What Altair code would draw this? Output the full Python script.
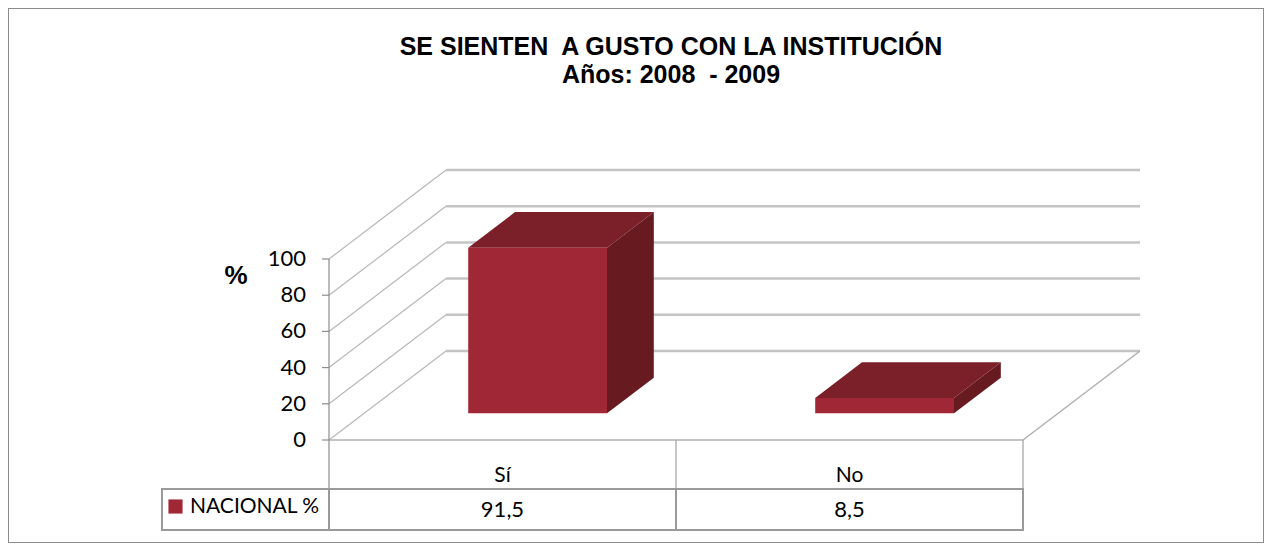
import altair as alt
import pandas as pd

# ---------------- data ----------------
categories = ["Sí", "No"]
values = [91.5, 8.5]
value_labels = ["91,5", "8,5"]
y_ticks = [0, 20, 40, 60, 80, 100]
series_name = "NACIONAL %"
title_lines = ["SE SIENTEN\u00a0 A GUSTO CON LA INSTITUCIÓN", "Años: 2008\u00a0 - 2009"]
y_title = "%"

# ---------------- layout (page pixels -> data units) ----------------
X0_PX, BAND_PX = 329.0, 347.0       # left axis x, width of one category band
Y0_PX, UNIT_PX = 440.0, 1.81        # value 0 y, pixels per value unit
W, H = 1256, 535


def U(px):
    return (px - X0_PX) / BAND_PX


def V(py):
    return (Y0_PX - py) / UNIT_PX


DX = 117.0 / BAND_PX     # full depth offset (x)
DY = 89.0 / UNIT_PX      # full depth offset (y)
D_FRONT, D_BACK = 0.30, 0.70
HALF = 0.20              # half bar width in band units

FRONT = "#A02836"
TOP = "#7B1F29"
SIDE = "#681A21"
GRID = "#c4c4c4"
FONT = "Lato"

XS = alt.Scale(domain=[U(8), U(8 + W)], nice=False, zero=False)
YS = alt.Scale(domain=[V(8 + H), V(8)], nice=False, zero=False)


def xq(f):
    return alt.X(f, type="quantitative", scale=XS, axis=None)


def yq(f):
    return alt.Y(f, type="quantitative", scale=YS, axis=None)


n = len(categories)

# back-wall gridlines
grid_df = pd.DataFrame({"t": y_ticks})
grid_df["v"] = grid_df["t"] + DY
grid_df["u0"] = DX
grid_df["u1"] = n + DX
grid = alt.Chart(grid_df).mark_rule(color=GRID, strokeWidth=2.5).encode(
    x=xq("u0"), x2="u1", y=yq("v"))

# left-wall slanted lines
slant_df = pd.DataFrame({"t": y_ticks})
slant_df["u0"] = 0.0
slant_df["u1"] = DX
slant_df["v0"] = slant_df["t"]
slant_df["v1"] = slant_df["t"] + DY
slants = alt.Chart(slant_df).mark_rule(color="#b8b8b8", strokeWidth=1.2).encode(
    x=xq("u0"), x2="u1", y=yq("v0"), y2="v1")

# floor edges
floor_df = pd.DataFrame({
    "u0": [0.0, float(n)],
    "u1": [float(n), n + DX],
    "v0": [0.0, 0.0],
    "v1": [0.0, DY],
})
floor = alt.Chart(floor_df).mark_rule(color="#b0b0b0", strokeWidth=1.5).encode(
    x=xq("u0"), x2="u1", y=yq("v0"), y2="v1")

# bars: front, top, side
bars = pd.DataFrame({"cat": categories, "val": values})
bars["c"] = [i + 0.5 for i in range(n)]

front_df = bars.copy()
front_df["ua"] = front_df["c"] - HALF + D_FRONT * DX
front_df["ub"] = front_df["c"] + HALF + D_FRONT * DX
front_df["va"] = D_FRONT * DY
front_df["vb"] = front_df["val"] + D_FRONT * DY
front = alt.Chart(front_df).mark_rect(color=FRONT).encode(
    x=xq("ua"), x2="ub", y=yq("va"), y2="vb")

top_rows = []
for _, r in bars.iterrows():
    for d in (D_FRONT, D_BACK):
        top_rows.append({"cat": r["cat"], "v": r["val"] + d * DY,
                         "xa": r["c"] - HALF + d * DX, "xb": r["c"] + HALF + d * DX})
top_df = pd.DataFrame(top_rows)
top = alt.Chart(top_df).mark_area(orient="horizontal", color=TOP).encode(
    y=yq("v"), x=xq("xa"), x2="xb", detail="cat:N")

side_rows = []
for _, r in bars.iterrows():
    for d in (D_FRONT, D_BACK):
        side_rows.append({"cat": r["cat"], "u": r["c"] + HALF + d * DX,
                          "ya": d * DY, "yb": r["val"] + d * DY})
side_df = pd.DataFrame(side_rows)
side = alt.Chart(side_df).mark_area(orient="vertical", color=SIDE).encode(
    x=xq("u"), y=yq("ya"), y2="yb", detail="cat:N")

# value axis
axis_df = pd.DataFrame({"u0": [0.0], "u1": [0.0], "v0": [max(y_ticks)], "v1": [V(489)]})
axis_line = alt.Chart(axis_df).mark_rule(color="#8c8c8c", strokeWidth=1.2).encode(
    x=xq("u0"), x2="u1", y=yq("v0"), y2="v1")
tick_df = pd.DataFrame({"t": y_ticks})
tick_df["u0"] = U(322)
tick_df["u1"] = 0.0
ticks = alt.Chart(tick_df).mark_rule(color="#8c8c8c", strokeWidth=1.2).encode(
    x=xq("u0"), x2="u1", y=yq("t"))
tick_df["lbl"] = [str(t) for t in y_ticks]
tick_df["ul"] = U(306)
tick_labels = alt.Chart(tick_df).mark_text(
    align="right", baseline="middle", font=FONT, fontSize=22, color="#000000").encode(
    x=xq("ul"), y=yq("t"), text="lbl:N")

ytitle_df = pd.DataFrame({"u": [U(236)], "v": [V(276)], "txt": [y_title]})
ytitle = alt.Chart(ytitle_df).mark_text(
    align="center", baseline="middle", font="Liberation Sans", fontSize=26,
    fontWeight="bold", color="#000000").encode(x=xq("u"), y=yq("v"), text="txt:N")

# data table
vlines_df = pd.DataFrame({"u": [1.0, 2.0], "v0": [0.0, 0.0], "v1": [V(489), V(489)]})
vlines = alt.Chart(vlines_df).mark_rule(color="#a0a0a0", strokeWidth=1.2).encode(
    x=xq("u"), y=yq("v0"), y2="v1")

row_df = pd.DataFrame({"ua": [U(162)], "ub": [float(n)], "va": [V(489)], "vb": [V(530)]})
row_box = alt.Chart(row_df).mark_rect(
    fill=None, fillOpacity=0, stroke="#9a9a9a", strokeWidth=2).encode(
    x=xq("ua"), x2="ub", y=yq("va"), y2="vb")
div_df = pd.DataFrame({"u": [0.0, 1.0], "va": [V(489)] * 2, "vb": [V(530)] * 2})
dividers = alt.Chart(div_df).mark_rule(color="#9a9a9a", strokeWidth=2).encode(
    x=xq("u"), y=yq("va"), y2="vb")

cat_df = bars.copy()
cat_df["v"] = V(476)
cat_labels = alt.Chart(cat_df).mark_text(
    align="center", baseline="middle", font=FONT, fontSize=21, color="#000000").encode(
    x=xq("c"), y=yq("v"), text="cat:N")

val_df = bars.copy()
val_df["lbl"] = value_labels
val_df["v"] = V(510)
val_labels = alt.Chart(val_df).mark_text(
    align="center", baseline="middle", font=FONT, fontSize=22, color="#000000").encode(
    x=xq("c"), y=yq("v"), text="lbl:N")

leg_df = pd.DataFrame({"u": [U(175.5)], "v": [V(506.5)], "ut": [U(190)], "name": [series_name]})
leg_sq = alt.Chart(leg_df).mark_square(color=FRONT, size=200, opacity=1).encode(
    x=xq("u"), y=yq("v"))
leg_txt = alt.Chart(leg_df).mark_text(
    align="left", baseline="middle", font=FONT, fontSize=21, color="#000000").encode(
    x=xq("ut"), y=yq("v"), text="name:N")

# title
title_df = pd.DataFrame({"txt": title_lines, "u": [U(671)] * 2, "v": [V(47), V(75)]})
title = alt.Chart(title_df).mark_text(
    align="center", baseline="middle", font="Liberation Sans", fontSize=25,
    fontWeight="bold", color="#000000").encode(x=xq("u"), y=yq("v"), text="txt:N")

chart = alt.layer(
    grid, slants, floor, side, top, front, axis_line, ticks, tick_labels, ytitle,
    vlines, row_box, dividers, cat_labels, val_labels, leg_sq, leg_txt, title,
).properties(
    width=W, height=H, padding=0, autosize="none", background="#ffffff",
).configure_view(stroke="#8c8c8c", strokeWidth=2)

chart.save("out.html", embed_options={"renderer": "svg", "actions": False})
